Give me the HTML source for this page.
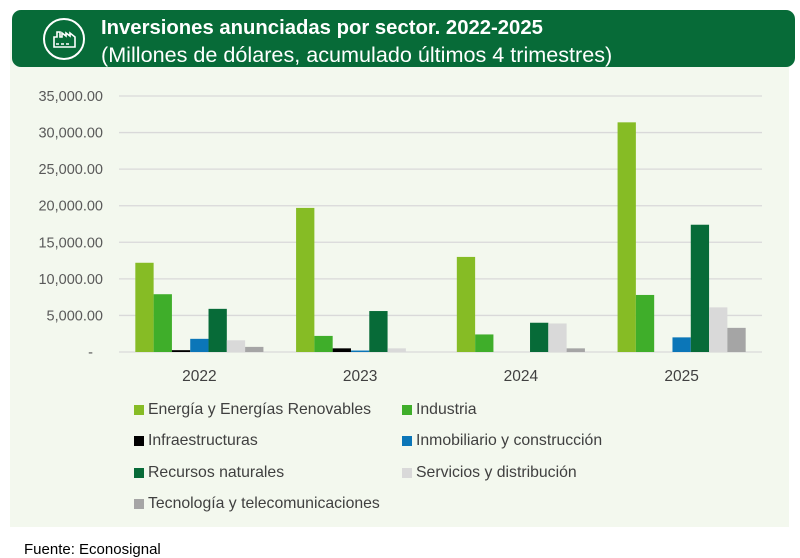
<!DOCTYPE html>
<html><head><meta charset="utf-8"><style>
body{margin:0;width:800px;height:557px;background:#fff;overflow:hidden;font-family:"Liberation Sans",sans-serif;position:relative}
#panel{position:absolute;left:10px;top:40px;width:779px;height:487px;background:#f3f8ee}
#hdr{position:absolute;left:12px;top:10px;width:783px;height:57px;background:#076b38;border-radius:9px;color:#fff}
#t1{position:absolute;left:89px;top:7px;font-size:20.3px;font-weight:bold;white-space:nowrap}
#t2{position:absolute;left:89px;top:32px;font-size:21.6px;white-space:nowrap}
#src{position:absolute;left:24px;top:541px;font-size:15px;color:#000}
.leg{position:absolute;font-size:15.8px;color:#404040;white-space:nowrap}
.leg i{position:absolute;left:-14px;top:4px;width:10px;height:10px}
</style></head><body>
<div id="panel"></div>
<div id="hdr">
<svg style="position:absolute;left:29px;top:6px" width="46" height="46" viewBox="0 0 46 46"><circle cx="23" cy="23" r="20" fill="none" stroke="#fff" stroke-width="2"/><path d="M13 31V21h3v-5h3v5h2v-4l4 3v-3l4 3v-3l5 4v10z" fill="none" stroke="#fff" stroke-width="1.6"/><path d="M15 28h3M20 28h3M25 28h3" stroke="#fff" stroke-width="1.6"/></svg>
<div id="t1">Inversiones anunciadas por sector. 2022-2025</div>
<div id="t2">(Millones de dólares, acumulado últimos 4 trimestres)</div>
</div>
<svg id="chart" width="800" height="557" style="position:absolute;left:0;top:0"></svg>
<div class="leg" style="left:148px;top:401px"><i style="background:#86bc25"></i>Energía y Energías Renovables</div>
<div class="leg" style="left:416px;top:401px"><i style="background:#3fae2a"></i>Industria</div>
<div class="leg" style="left:148px;top:432px"><i style="background:#000"></i>Infraestructuras</div>
<div class="leg" style="left:416px;top:432px"><i style="background:#0b76b8"></i>Inmobiliario y construcción</div>
<div class="leg" style="left:148px;top:464px"><i style="background:#076b38"></i>Recursos naturales</div>
<div class="leg" style="left:416px;top:464px"><i style="background:#d9d9d9"></i>Servicios y distribución</div>
<div class="leg" style="left:148px;top:495px"><i style="background:#a5a5a5"></i>Tecnología y telecomunicaciones</div>
<div id="src">Fuente: Econosignal</div>
<script>
const categories=["2022","2023","2024","2025"];
const energia=[12200,19700,13000,31400];
const industria=[7900,2200,2400,7800];
const infraestructuras=[250,500,0,0];
const inmobiliario=[1800,200,0,2000];
const recursos=[5900,5600,4000,17400];
const servicios=[1600,500,3900,6100];
const tecnologia=[700,0,500,3300];
const yTicks=[0,5000,10000,15000,20000,25000,30000,35000];
const yTickLabels=["-","5,000.00","10,000.00","15,000.00","20,000.00","25,000.00","30,000.00","35,000.00"];
const series=[energia,industria,infraestructuras,inmobiliario,recursos,servicios,tecnologia];
const colors=["#86bc25","#3fae2a","#000000","#0b76b8","#076b38","#d9d9d9","#a5a5a5"];
const names=["energia","industria","infraestructuras","inmobiliario","recursos","servicios","tecnologia"];
const svg=document.getElementById('chart');const NS="http://www.w3.org/2000/svg";
const X0=119,X1=762,Y0=352,Y1=96,YMAX=35000;
const y=v=>Y0-(v/YMAX)*(Y0-Y1);
const catW=(X1-X0)/categories.length;
const bw=18.3;
function mk(t,a){const e=document.createElementNS(NS,t);for(const k in a)e.setAttribute(k,a[k]);svg.appendChild(e);return e;}
yTicks.forEach((t,i)=>{
 const l=mk('line',{x1:X0,x2:X1,y1:y(t),y2:y(t),stroke:'#d9d9d9','stroke-width':1.3});
 
 
 const tx=mk('text',{x:i==0?93:103,y:y(t)+5,'text-anchor':'end','font-size':14.5,fill:'#595959','font-family':'Liberation Sans'});
 tx.textContent=yTickLabels[i];
 
 
});
categories.forEach((c,ci)=>{
 const cx=X0+catW*(ci+0.5);const gx=cx-bw*series.length/2;
 series.forEach((s,si)=>{
  const v=s[ci];if(v<=0)return;
  const r=mk('rect',{x:gx+si*bw,y:y(v),width:bw,height:Y0-y(v),fill:colors[si]});
  
  
 });
 const t=mk('text',{x:cx,y:381,'text-anchor':'middle','font-size':15.5,fill:'#404040','font-family':'Liberation Sans'});
 t.textContent=c;
 
 
});
</script>
</body></html>
